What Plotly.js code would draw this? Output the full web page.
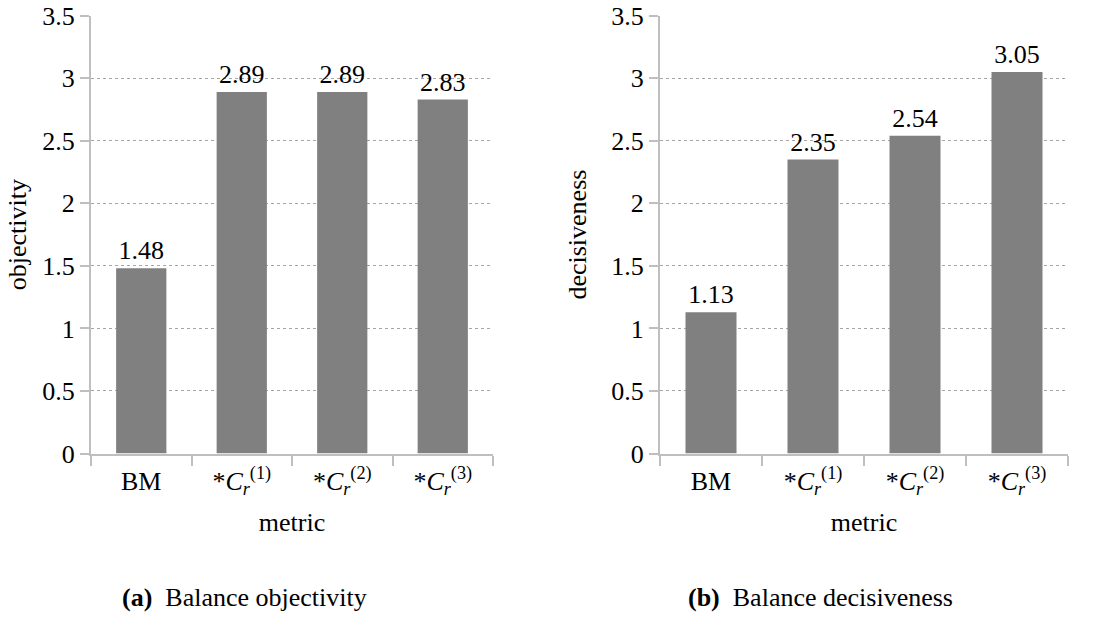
<!DOCTYPE html>
<html>
<head>
<meta charset="utf-8">
<script src="https://cdn.plot.ly/plotly-3.0.1.min.js"></script>
<style>html,body{margin:0;padding:0;background:#fff;}#chart{width:1097px;height:617px;}</style>
</head>
<body>
<div id="chart"></div>
<script>
var categories = ["BM", "Cr1", "Cr2", "Cr3"];
var tickLabels = ["BM", "*<i>C<sub>r</sub></i><sup>(1)</sup>", "*<i>C<sub>r</sub></i><sup>(2)</sup>", "*<i>C<sub>r</sub></i><sup>(3)</sup>"];
var objectivity = [1.48, 2.89, 2.89, 2.83];
var decisiveness = [1.13, 2.35, 2.54, 3.05];
var captionA = "<b>(a)</b>  Balance objectivity";
var captionB = "<b>(b)</b>  Balance decisiveness";

var SERIF = "Liberation Serif, Times New Roman, serif";
var FS = 26;
var barColor = "#808080";
var axisColor = "#bfbfbf";

function makeBar(vals, xa, ya) {
  return {
    type: "bar", x: categories, y: vals, xaxis: xa, yaxis: ya,
    marker: {color: barColor},
    text: vals.map(function (v) { return v.toFixed(2); }), textposition: "outside",
    textfont: {family: SERIF, size: FS, color: "#000"},
    cliponaxis: false, hoverinfo: "skip"
  };
}

function makeX(domain, anchor) {
  return {
    domain: domain, anchor: anchor, type: "category",
    tickvals: categories, ticktext: tickLabels,
    tickson: "boundaries", ticks: "outside", ticklen: 10, tickwidth: 2, tickcolor: axisColor,
    ticklabelstandoff: 3,
    showline: true, linecolor: axisColor, linewidth: 2, showgrid: false, zeroline: false,
    tickfont: {family: SERIF, size: FS, color: "#000"},
    title: {text: "metric", font: {family: SERIF, size: FS, color: "#000"}, standoff: 15},
    automargin: false
  };
}
function makeY(domain, anchor, title, standoff) {
  return {
    domain: domain, anchor: anchor, range: [0, 3.5], dtick: 0.5,
    ticks: "outside", ticklen: 9, tickwidth: 2, tickcolor: axisColor,
    showline: true, linecolor: axisColor, linewidth: 2,
    showgrid: true, gridcolor: "#a6a6a6", griddash: "3px,3px", gridwidth: 1.3, zeroline: false,
    tickfont: {family: SERIF, size: FS, color: "#000"},
    title: {text: title, font: {family: SERIF, size: FS, color: "#000"}, standoff: standoff},
    automargin: false
  };
}

var ydom = [1 - 453.5/617, 1 - 15.7/617];
var lay = {
  width: 1097, height: 617,
  margin: {l: 0, r: 0, t: 0, b: 0},
  paper_bgcolor: "#fff", plot_bgcolor: "#fff",
  showlegend: false, bargap: 0.5,
  font: {family: SERIF, color: "#000"},
  xaxis: makeX([91/1097, 493/1097], "y"),
  yaxis: makeY(ydom, "x", "objectivity", 8),
  xaxis2: makeX([660/1097, 1068/1097], "y2"),
  yaxis2: makeY(ydom, "x2", "decisiveness", 17),
  annotations: [
    {text: captionA, xref: "paper", yref: "paper", x: 244/1097, y: 1 - 597/617, showarrow: false,
     xanchor: "center", yanchor: "middle", font: {family: SERIF, size: 26, color: "#000"}},
    {text: captionB, xref: "paper", yref: "paper", x: 820/1097, y: 1 - 597/617, showarrow: false,
     xanchor: "center", yanchor: "middle", font: {family: SERIF, size: 26, color: "#000"}}
  ]
};

Plotly.newPlot("chart", [makeBar(objectivity, "x", "y"), makeBar(decisiveness, "x2", "y2")], lay, {displayModeBar: false});
</script>
</body>
</html>
